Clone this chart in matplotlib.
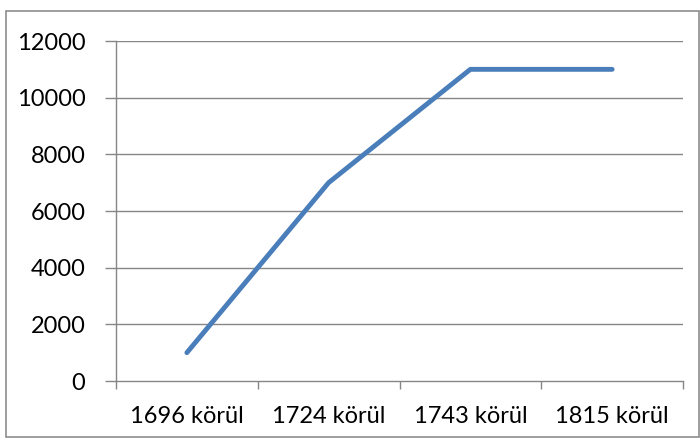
import matplotlib.pyplot as plt
from matplotlib.patches import Rectangle

categories = ["1696 körül", "1724 körül", "1743 körül", "1815 körül"]
values = [1000, 7000, 11000, 11000]
yticks = [0, 2000, 4000, 6000, 8000, 10000, 12000]

plt.rcParams['font.family'] = ['Lato', 'DejaVu Sans']

fig = plt.figure(figsize=(7, 4.38), dpi=100)
ax = fig.add_axes([116 / 700, 1 - 381 / 438, (683 - 116) / 700, (381 - 41) / 438])

x = list(range(len(categories)))
ax.plot(x, values, color="#4A7EBB", linewidth=3.5, solid_capstyle="round", solid_joinstyle="round")

ax.set_xlim(-0.5, len(categories) - 0.5)
ax.set_ylim(0, 12000)
ax.set_yticks(yticks)
ax.set_yticklabels([str(v) for v in yticks])
for v in yticks[1:]:
    ax.axhline(v, color="#868686", linewidth=1.0, zorder=0)

# category ticks sit between the labels
ax.set_xticks([i - 0.5 for i in range(len(categories) + 1)])
ax.set_xticklabels([])
ax.set_xticks(x, minor=True)
ax.set_xticklabels(categories, minor=True)
ax.tick_params(axis="x", which="minor", length=0, pad=18, labelsize=17)
ax.tick_params(axis="x", which="major", length=6, color="#868686", width=1, direction="out")
ax.tick_params(axis="y", length=8, color="#868686", width=1, direction="out", pad=14, labelsize=17)

for s in ["top", "right"]:
    ax.spines[s].set_visible(False)
for s in ["left", "bottom"]:
    ax.spines[s].set_color("#868686")
    ax.spines[s].set_linewidth(1.0)

# outer chart frame
fig.patches.append(Rectangle((6 / 700, 1 / 438), 693 / 700, 426 / 438, transform=fig.transFigure,
                             fill=False, edgecolor="#8C8C8C", linewidth=1.2))

fig.savefig("out.png", dpi=100)
